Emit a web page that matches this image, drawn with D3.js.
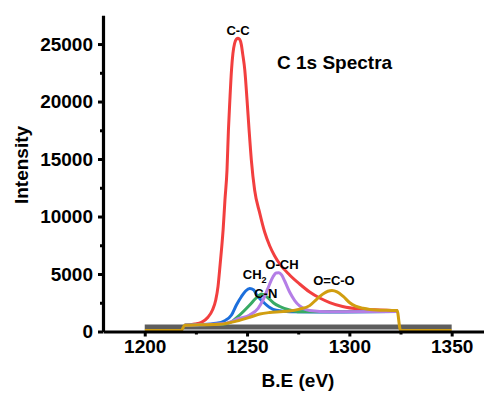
<!DOCTYPE html>
<html>
<head>
<meta charset="utf-8">
<script src="https://cdn.jsdelivr.net/npm/d3@7/dist/d3.min.js"></script>
<style>
  body { margin: 0; background: #fff; }
  svg { display: block; }
  text { font-family: Arial, "Liberation Sans", sans-serif; font-weight: bold; fill: #000; }
</style>
</head>
<body>
<svg id="chart" width="484" height="393"></svg>
<script>
// C 1s fitted components: binding energy (eV) and intensity (counts)
const ccBE = [1219.5,1224.4,1227.7,1230.9,1233.1,1234.7,1235.8,1236.6,1237.5,1238.3,1239.2,1240.2,1240.9,1241.6,1242.4,1243.1,1243.9,1244.8,1245.6,1246.4,1247.2,1247.9,1248.9,1250.0,1251.0,1252.1,1253.7,1256.2,1258.6,1261.1,1263.5,1266.0,1270.8,1275.7,1280.6,1285.5,1290.4,1296.7,1305.0,1314.8,1323.6];
const ccI  = [540,650,800,1240,1870,2740,3900,5350,7090,8830,11440,14040,17520,20130,22740,24190,25050,25430,25500,25400,24950,24100,22740,20130,17520,14910,12300,10300,8650,7435,6570,5870,4915,4130,3435,2910,2520,2175,1955,1870,1825];

const ch2BE = [1219.5,1226.9,1235.0,1239.1,1242.4,1244.8,1247.2,1249.3,1251.3,1253.3,1254.7,1257.8,1261.1,1264.3,1270.8,1285.5,1323.6];
const ch2I  = [540,590,710,940,1435,2305,3025,3520,3740,3610,3175,2590,2090,1845,1720,1700,1730];

const cnBE = [1219.5,1226.9,1238.3,1242.4,1246.4,1251.3,1254.2,1257.2,1260.1,1263.0,1266.0,1270.8,1275.7,1323.6];
const cnI  = [540,590,625,850,1435,2305,2870,3260,2955,2480,2175,1870,1720,1730];

const ochBE = [1219.5,1226.9,1239.1,1246.4,1251.3,1255.4,1257.8,1260.2,1262.7,1264.2,1265.6,1266.9,1268.4,1270.8,1273.3,1275.7,1280.6,1290.4,1323.6];
const ochI  = [540,590,695,1150,1435,2020,2740,3755,4765,5090,5115,4915,4390,3435,2695,2220,1825,1720,1730];

const ocoBE = [1200,1217.9,1219.5,1226.9,1236.7,1244.8,1251.3,1256.2,1261.0,1266.0,1271.0,1275.7,1280.6,1284.0,1287.0,1289.5,1291.5,1294.0,1297.0,1300.2,1303.0,1306.7,1310.0,1313.2,1318.0,1323.3,1325.0,1350];
const ocoI  = [90,90,540,580,625,900,1235,1520,1650,1720,1790,1950,2250,2800,3250,3500,3570,3450,3050,2500,2200,2020,1920,1870,1840,1830,90,90];

const baseBE = [1200,1350];
const baseI  = [400,400];

const peakLabels = ["C-C","CH2","C-N","O-CH","O=C-O"];
const xTicks = [1200,1250,1300,1350];
const xMinorTicks = [1225,1275,1325];
const yTicks = [0,5000,10000,15000,20000,25000];
const yMinorTicks = [2500,7500,12500,17500,22500];

const svg = d3.select("#chart");
const x = d3.scaleLinear().domain([1179.6, 1365.8]).range([103, 484]);
const y = d3.scaleLinear().domain([0, 27500]).range([331.5, 15.3]);

const toPts = (be, iv) => be.map((b, i) => [b, iv[i]]);
const line = d3.line().x(d => x(d[0])).y(d => y(d[1])).curve(d3.curveMonotoneX);

// raw baseline band
svg.append("path").datum(toPts(baseBE, baseI))
  .attr("d", line).attr("fill", "none").attr("stroke", "#5e5e5e").attr("stroke-width", 5);

const comps = [
  { be: ccBE,  iv: ccI,  color: "#f23f3f", label: peakLabels[0], dx: 0,   dy: -3 },
  { be: ch2BE, iv: ch2I, color: "#1c6fdc", label: peakLabels[1], dx: 5,   dy: -9 },
  { be: cnBE,  iv: cnI,  color: "#38aa64", label: peakLabels[2], dx: 4,   dy: 4 },
  { be: ochBE, iv: ochI, color: "#b47ee6", label: peakLabels[3], dx: 3,   dy: -4 },
  { be: ocoBE, iv: ocoI, color: "#d19e10", label: peakLabels[4], dx: 2,   dy: -5 }
];

comps.forEach(c => {
  svg.append("path").datum(toPts(c.be, c.iv))
    .attr("d", line).attr("fill", "none")
    .attr("stroke", c.color).attr("stroke-width", 3)
    .attr("stroke-linejoin", "round");
});

// axes
svg.append("g").attr("transform", "translate(0,331.5)")
  .call(d3.axisBottom(x).tickValues(xTicks).tickFormat(d3.format("d"))
    .tickSize(5).tickSizeOuter(0).tickPadding(3.5));
svg.append("g").attr("transform", "translate(0,331.5)")
  .call(d3.axisBottom(x).tickValues(xMinorTicks).tickSize(3).tickFormat("").tickSizeOuter(0))
  .select(".domain").remove();
svg.append("g").attr("transform", "translate(103,0)")
  .call(d3.axisLeft(y).tickValues(yTicks).tickFormat(d3.format("d"))
    .tickSize(5).tickSizeOuter(0).tickPadding(5));
svg.append("g").attr("transform", "translate(103,0)")
  .call(d3.axisLeft(y).tickValues(yMinorTicks).tickSize(3).tickFormat("").tickSizeOuter(0))
  .select(".domain").remove();

svg.selectAll(".domain").attr("stroke", "#000").attr("stroke-width", 3.2);
svg.selectAll(".tick line").attr("stroke", "#000").attr("stroke-width", 3);
svg.selectAll(".tick text").attr("font-size", 19).attr("font-family", null).attr("fill", "#000");

// peak annotations placed at each component's maximum
comps.forEach(c => {
  let k = 0;
  c.iv.forEach((v, i) => { if (v > c.iv[k]) k = i; });
  const t = svg.append("text")
    .attr("x", x(c.be[k]) + c.dx).attr("y", y(c.iv[k]) + c.dy)
    .attr("text-anchor", "middle").attr("font-size", 13);
  if (c.label === "CH2") {
    t.append("tspan").text("CH");
    t.append("tspan").attr("font-size", 9).attr("dy", 4).text("2");
  } else {
    t.text(c.label);
  }
});

svg.append("text").attr("x", 277).attr("y", 68.5).attr("font-size", 19).text("C 1s Spectra");
svg.append("text").attr("x", 298).attr("y", 387).attr("text-anchor", "middle").attr("font-size", 19).text("B.E (eV)");
svg.append("text").attr("transform", "translate(28,165) rotate(-90)")
  .attr("text-anchor", "middle").attr("font-size", 19).text("Intensity");
</script>
</body>
</html>
